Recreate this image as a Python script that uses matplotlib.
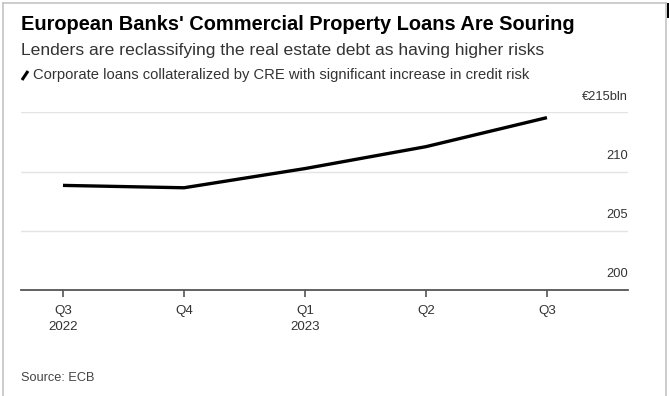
import matplotlib
matplotlib.use("Agg")
import matplotlib.pyplot as plt
import matplotlib.transforms as mtrans
from matplotlib.lines import Line2D
from matplotlib.patches import Rectangle

quarters = ["Q3\n2022", "Q4", "Q1\n2023", "Q2", "Q3"]
loans_bln = [208.83, 208.63, 210.25, 212.1, 214.55]
ytick_vals = [200, 205, 210, 215]
ytick_labels = ["200", "205", "210", "€215bln"]

plt.rcParams['font.family'] = ['Liberation Sans', 'DejaVu Sans']

W, H = 669, 396
fig = plt.figure(figsize=(W / 100, H / 100), dpi=100)

def fx(px):
    return px / W

def fy(py):
    return 1 - py / H

# axes geometry in pixels
ax_left, ax_right, ax_top, ax_bottom = 21, 628, 112.3, 290
ax = fig.add_axes([fx(ax_left), fy(ax_bottom), (ax_right - ax_left) / W, (ax_bottom - ax_top) / H])

x = list(range(len(quarters)))
ax.plot(x, loans_bln, color="black", lw=2.4, solid_capstyle="butt", solid_joinstyle="round")
ax.set_xlim(-0.347, 4.67)
ax.set_ylim(200, 215)

for s in ["top", "right", "left"]:
    ax.spines[s].set_visible(False)
ax.spines["bottom"].set_color("#555555")
ax.spines["bottom"].set_linewidth(1.3)

for v in ytick_vals[1:]:
    ax.axhline(v, color="#e4e4e4", lw=1.0, zorder=0)

ax.set_yticks([])
label_tr = ax.get_yaxis_transform() + mtrans.ScaledTranslation(0, 7 / 72, fig.dpi_scale_trans)
for v, lab in zip(ytick_vals, ytick_labels):
    ax.text(1.0, v, lab, transform=label_tr, ha="right", va="bottom",
            fontsize=9.3, color="#333333")

ax.set_xticks(x)
ax.set_xticklabels(quarters, fontsize=9.6, color="#333333", linespacing=1.45)
ax.tick_params(axis="x", length=5, width=1.2, color="#555555", pad=6)

# Title etc.
fig.text(fx(21), fy(25), "European Banks' Commercial Property Loans Are Souring",
         fontsize=14.4, fontweight="bold", color="black", va="center", ha="left")
fig.text(fx(21), fy(50), "Lenders are reclassifying the real estate debt as having higher risks",
         fontsize=12.6, color="#333333", va="center", ha="left")
fig.lines.append(Line2D([fx(22), fx(28)], [fy(80), fy(71)], transform=fig.transFigure,
                        color="black", lw=2.2, solid_capstyle="butt"))
fig.text(fx(33), fy(75.5), "Corporate loans collateralized by CRE with significant increase in credit risk",
         fontsize=10.6, color="#333333", va="center", ha="left")
fig.text(fx(21), fy(378), "Source: ECB", fontsize=9.2, color="#444444", va="center", ha="left")

# frame border
fig.lines.append(Line2D([fx(2.5), fx(2.5)], [0, fy(3)], transform=fig.transFigure, color="#c4c4c4", lw=1.2))
fig.lines.append(Line2D([fx(2.5), fx(665.5)], [fy(3), fy(3)], transform=fig.transFigure, color="#c4c4c4", lw=1.2))
fig.lines.append(Line2D([fx(665.5), fx(665.5)], [fy(3), 0], transform=fig.transFigure, color="#c4c4c4", lw=1.2))
fig.patches.append(Rectangle((fx(666.5), fy(18)), fx(2.5), 15 / H, transform=fig.transFigure,
                             facecolor="black", edgecolor="none"))

fig.savefig("out.png", dpi=100)
